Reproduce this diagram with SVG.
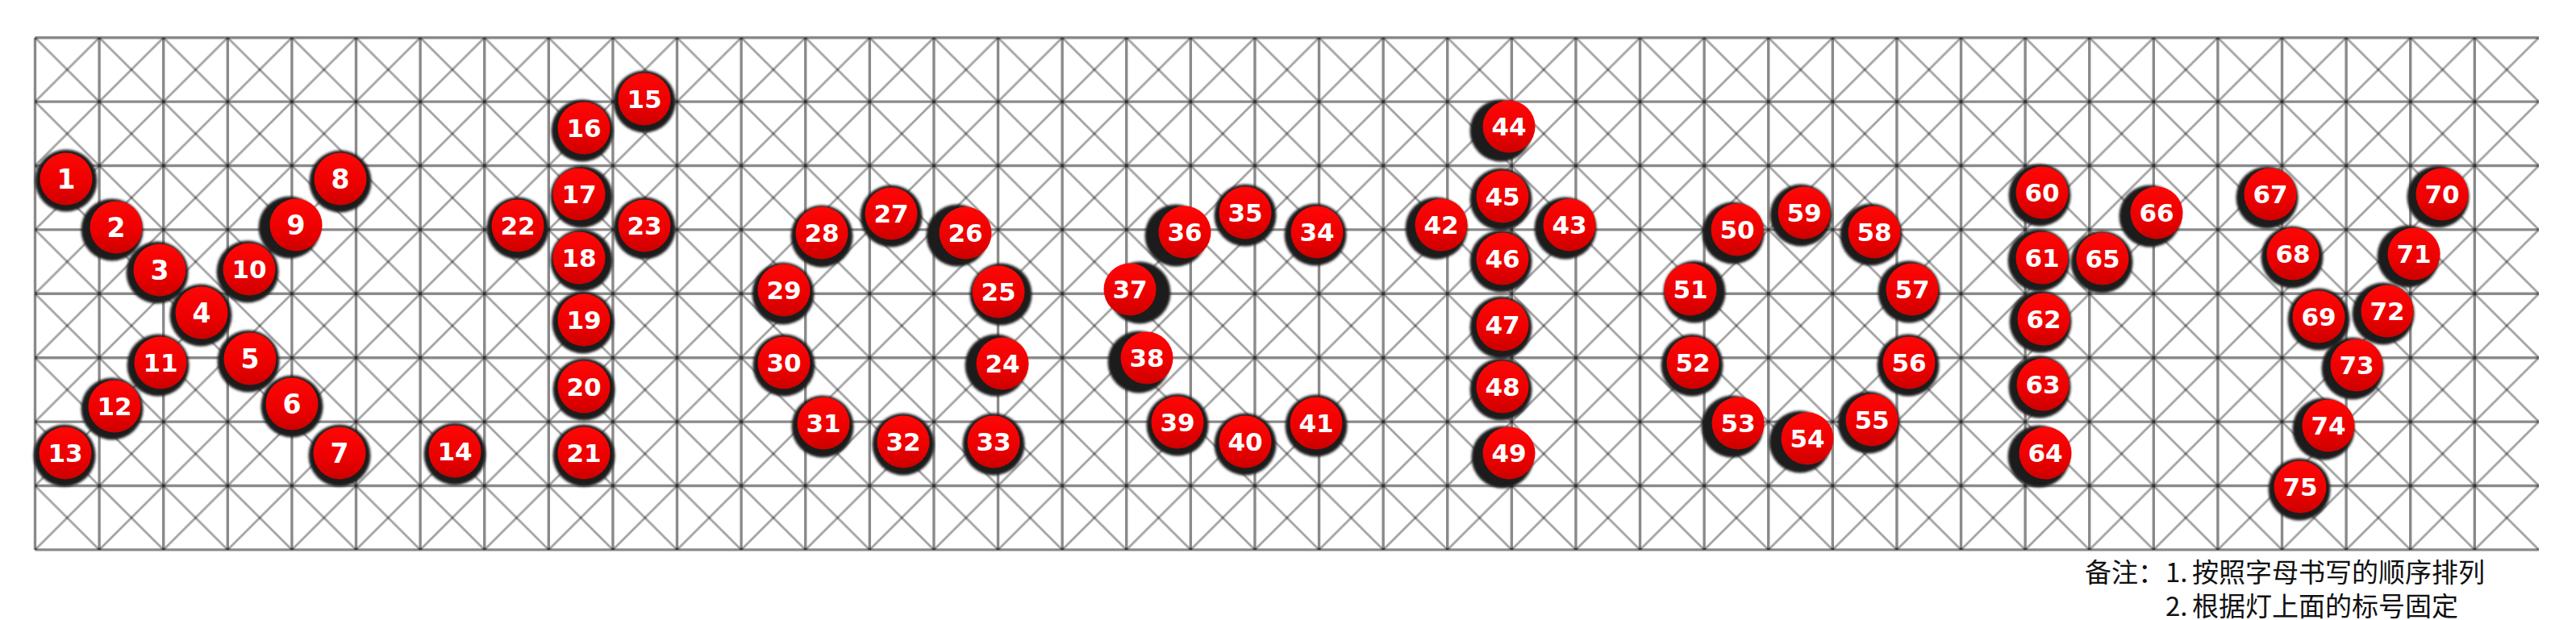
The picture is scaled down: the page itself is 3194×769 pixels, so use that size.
<svg xmlns="http://www.w3.org/2000/svg" width="3194" height="769" viewBox="0 0 3194 769">
<style>
.bg{fill:#fff}
.gl{fill:none;stroke:#000;stroke-opacity:.46;stroke-width:3.4}
.dg{fill:none;stroke:#000;stroke-opacity:.36;stroke-width:2.8}
.s{fill:#1c1c1c;filter:url(#bl)}
.r{fill:url(#rg)}
.t,.t1{fill:#fff;font-family:"DejaVu Sans","Liberation Sans",sans-serif;font-weight:bold;text-anchor:middle}
.t{font-size:31px}
.t1{font-size:33px}
.note{fill:#111;font-family:"Noto Sans CJK SC","Noto Sans",sans-serif;font-size:33px}
</style>
<defs>
<linearGradient id="rg" x1="0" y1="0" x2="0" y2="1">
<stop offset="0" stop-color="#ff0606"/>
<stop offset="0.6" stop-color="#ec0000"/>
<stop offset="1" stop-color="#cc0000"/>
</linearGradient>
<filter id="bl" x="-20%" y="-20%" width="140%" height="140%"><feGaussianBlur stdDeviation="1.4"/></filter>
<filter id="soft" x="-1%" y="-2%" width="102%" height="104%"><feGaussianBlur stdDeviation="0.6"/></filter>
<pattern id="xp" patternUnits="userSpaceOnUse" x="43.5" y="46.7" width="79.6" height="79.4">
<path class="dg" d="M0 0L79.6 79.4"/>
<path class="dg" d="M79.6 0L0 79.4"/>
</pattern>
</defs>
<rect class="bg" x="0" y="0" width="3194" height="769"/>
<g id="grid" filter="url(#soft)">
<rect x="43.5" y="46.7" width="3104.4" height="635.2" fill="url(#xp)"/>
<path class="gl" d="M43.5 46.7v635.2m79.6-635.2v635.2m79.6-635.2v635.2m79.6-635.2v635.2m79.6-635.2v635.2m79.6-635.2v635.2m79.6-635.2v635.2m79.6-635.2v635.2m79.6-635.2v635.2m79.6-635.2v635.2m79.6-635.2v635.2m79.6-635.2v635.2m79.6-635.2v635.2m79.6-635.2v635.2m79.6-635.2v635.2m79.6-635.2v635.2m79.6-635.2v635.2m79.6-635.2v635.2m79.6-635.2v635.2m79.6-635.2v635.2m79.6-635.2v635.2m79.6-635.2v635.2m79.6-635.2v635.2m79.6-635.2v635.2m79.6-635.2v635.2m79.6-635.2v635.2m79.6-635.2v635.2m79.6-635.2v635.2m79.6-635.2v635.2m79.6-635.2v635.2m79.6-635.2v635.2m79.6-635.2v635.2m79.6-635.2v635.2m79.6-635.2v635.2m79.6-635.2v635.2m79.6-635.2v635.2m79.6-635.2v635.2m79.6-635.2v635.2m79.6-635.2v635.2"/>
<path class="gl" d="M43.5 46.7h3104.4m-3104.4 79.4h3104.4m-3104.4 79.4h3104.4m-3104.4 79.4h3104.4m-3104.4 79.4h3104.4m-3104.4 79.4h3104.4m-3104.4 79.4h3104.4m-3104.4 79.4h3104.4m-3104.4 79.4h3104.4"/>
</g>
<g id="nodes">
<g id="n1"><circle class="s" cx="82" cy="224" r="38.5"/><circle class="r" cx="82" cy="222" r="32.5"/><text class="t1" x="82" y="234">1</text></g>
<g id="n2"><circle class="s" cx="139" cy="285" r="38.5"/><circle class="r" cx="144" cy="282" r="32.5"/><text class="t1" x="144" y="294">2</text></g>
<g id="n3"><circle class="s" cx="195" cy="338" r="38.5"/><circle class="r" cx="198" cy="335" r="32.5"/><text class="t1" x="198" y="347">3</text></g>
<g id="n4"><circle class="s" cx="249" cy="391" r="38.5"/><circle class="r" cx="250" cy="388" r="32.5"/><text class="t1" x="250" y="400">4</text></g>
<g id="n5"><circle class="s" cx="308" cy="448" r="38.5"/><circle class="r" cx="310" cy="445" r="32.5"/><text class="t1" x="310" y="457">5</text></g>
<g id="n6"><circle class="s" cx="362" cy="504" r="38.5"/><circle class="r" cx="362" cy="501" r="32.5"/><text class="t1" x="362" y="513">6</text></g>
<g id="n7"><circle class="s" cx="421" cy="565" r="38.5"/><circle class="r" cx="421" cy="562" r="32.5"/><text class="t1" x="421" y="574">7</text></g>
<g id="n8"><circle class="s" cx="422" cy="225" r="38.5"/><circle class="r" cx="422" cy="222" r="32.5"/><text class="t1" x="422" y="234">8</text></g>
<g id="n9"><circle class="s" cx="359" cy="282" r="38.5"/><circle class="r" cx="367" cy="279" r="32.5"/><text class="t1" x="367" y="291">9</text></g>
<g id="n10"><circle class="s" cx="307" cy="337" r="38.5"/><circle class="r" cx="309" cy="334" r="32.5"/><text class="t" x="309" y="345">10</text></g>
<g id="n11"><circle class="s" cx="196" cy="453" r="38.5"/><circle class="r" cx="199" cy="450" r="32.5"/><text class="t" x="199" y="461">11</text></g>
<g id="n12"><circle class="s" cx="139" cy="507" r="38.5"/><circle class="r" cx="142" cy="504" r="32.5"/><text class="t" x="142" y="515">12</text></g>
<g id="n13"><circle class="s" cx="80" cy="565" r="38.5"/><circle class="r" cx="81" cy="562" r="32.5"/><text class="t" x="81" y="573">13</text></g>
<g id="n14"><circle class="s" cx="564" cy="563" r="38.5"/><circle class="r" cx="564" cy="560" r="32.5"/><text class="t" x="564" y="571">14</text></g>
<g id="n15"><circle class="s" cx="799" cy="126" r="38.5"/><circle class="r" cx="799" cy="123" r="32.5"/><text class="t" x="799" y="134">15</text></g>
<g id="n16"><circle class="s" cx="722" cy="162" r="38.5"/><circle class="r" cx="724" cy="159" r="32.5"/><text class="t" x="724" y="170">16</text></g>
<g id="n17"><circle class="s" cx="721" cy="244" r="38.5"/><circle class="r" cx="718" cy="241" r="32.5"/><text class="t" x="718" y="252">17</text></g>
<g id="n18"><circle class="s" cx="721" cy="323" r="38.5"/><circle class="r" cx="718" cy="320" r="32.5"/><text class="t" x="718" y="331">18</text></g>
<g id="n19"><circle class="s" cx="723" cy="400" r="38.5"/><circle class="r" cx="724" cy="397" r="32.5"/><text class="t" x="724" y="408">19</text></g>
<g id="n20"><circle class="s" cx="724" cy="483" r="38.5"/><circle class="r" cx="724" cy="480" r="32.5"/><text class="t" x="724" y="491">20</text></g>
<g id="n21"><circle class="s" cx="724" cy="565" r="38.5"/><circle class="r" cx="724" cy="562" r="32.5"/><text class="t" x="724" y="573">21</text></g>
<g id="n22"><circle class="s" cx="642" cy="283" r="38.5"/><circle class="r" cx="642" cy="280" r="32.5"/><text class="t" x="642" y="291">22</text></g>
<g id="n23"><circle class="s" cx="799" cy="283" r="38.5"/><circle class="r" cx="799" cy="280" r="32.5"/><text class="t" x="799" y="291">23</text></g>
<g id="n24"><circle class="s" cx="1235" cy="453" r="38.5"/><circle class="r" cx="1243" cy="451" r="32.5"/><text class="t" x="1243" y="462">24</text></g>
<g id="n25"><circle class="s" cx="1241" cy="365" r="38.5"/><circle class="r" cx="1238" cy="362" r="32.5"/><text class="t" x="1238" y="373">25</text></g>
<g id="n26"><circle class="s" cx="1187" cy="292" r="38.5"/><circle class="r" cx="1197" cy="289" r="32.5"/><text class="t" x="1197" y="300">26</text></g>
<g id="n27"><circle class="s" cx="1105" cy="268" r="38.5"/><circle class="r" cx="1105" cy="265" r="32.5"/><text class="t" x="1105" y="276">27</text></g>
<g id="n28"><circle class="s" cx="1019" cy="293" r="38.5"/><circle class="r" cx="1019" cy="289" r="32.5"/><text class="t" x="1019" y="300">28</text></g>
<g id="n29"><circle class="s" cx="971" cy="364" r="38.5"/><circle class="r" cx="972" cy="360" r="32.5"/><text class="t" x="972" y="371">29</text></g>
<g id="n30"><circle class="s" cx="972" cy="453" r="38.5"/><circle class="r" cx="972" cy="450" r="32.5"/><text class="t" x="972" y="461">30</text></g>
<g id="n31"><circle class="s" cx="1020" cy="529" r="38.5"/><circle class="r" cx="1021" cy="525" r="32.5"/><text class="t" x="1021" y="536">31</text></g>
<g id="n32"><circle class="s" cx="1120" cy="551" r="38.5"/><circle class="r" cx="1120" cy="548" r="32.5"/><text class="t" x="1120" y="559">32</text></g>
<g id="n33"><circle class="s" cx="1232" cy="551" r="38.5"/><circle class="r" cx="1232" cy="548" r="32.5"/><text class="t" x="1232" y="559">33</text></g>
<g id="n34"><circle class="s" cx="1631" cy="291" r="38.5"/><circle class="r" cx="1633" cy="288" r="32.5"/><text class="t" x="1633" y="299">34</text></g>
<g id="n35"><circle class="s" cx="1544" cy="267" r="38.5"/><circle class="r" cx="1544" cy="264" r="32.5"/><text class="t" x="1544" y="275">35</text></g>
<g id="n36"><circle class="s" cx="1458" cy="292" r="38.5"/><circle class="r" cx="1469" cy="288" r="32.5"/><text class="t" x="1469" y="299">36</text></g>
<g id="n37"><circle class="s" cx="1413" cy="363" r="38.5"/><circle class="r" cx="1401" cy="359" r="32.5"/><text class="t" x="1401" y="370">37</text></g>
<g id="n38"><circle class="s" cx="1412" cy="449" r="38.5"/><circle class="r" cx="1422" cy="444" r="32.5"/><text class="t" x="1422" y="455">38</text></g>
<g id="n39"><circle class="s" cx="1460" cy="527" r="38.5"/><circle class="r" cx="1460" cy="524" r="32.5"/><text class="t" x="1460" y="535">39</text></g>
<g id="n40"><circle class="s" cx="1544" cy="551" r="38.5"/><circle class="r" cx="1544" cy="548" r="32.5"/><text class="t" x="1544" y="559">40</text></g>
<g id="n41"><circle class="s" cx="1632" cy="528" r="38.5"/><circle class="r" cx="1632" cy="525" r="32.5"/><text class="t" x="1632" y="536">41</text></g>
<g id="n42"><circle class="s" cx="1781" cy="283" r="38.5"/><circle class="r" cx="1787" cy="279" r="32.5"/><text class="t" x="1787" y="290">42</text></g>
<g id="n43"><circle class="s" cx="1941" cy="283" r="38.5"/><circle class="r" cx="1946" cy="279" r="32.5"/><text class="t" x="1946" y="290">43</text></g>
<g id="n44"><circle class="s" cx="1861" cy="162" r="38.5"/><circle class="r" cx="1871" cy="157" r="32.5"/><text class="t" x="1871" y="168">44</text></g>
<g id="n45"><circle class="s" cx="1861" cy="247" r="38.5"/><circle class="r" cx="1863" cy="244" r="32.5"/><text class="t" x="1863" y="255">45</text></g>
<g id="n46"><circle class="s" cx="1861" cy="324" r="38.5"/><circle class="r" cx="1863" cy="321" r="32.5"/><text class="t" x="1863" y="332">46</text></g>
<g id="n47"><circle class="s" cx="1861" cy="406" r="38.5"/><circle class="r" cx="1863" cy="403" r="32.5"/><text class="t" x="1863" y="414">47</text></g>
<g id="n48"><circle class="s" cx="1861" cy="483" r="38.5"/><circle class="r" cx="1863" cy="480" r="32.5"/><text class="t" x="1863" y="491">48</text></g>
<g id="n49"><circle class="s" cx="1863" cy="567" r="38.5"/><circle class="r" cx="1871" cy="562" r="32.5"/><text class="t" x="1871" y="573">49</text></g>
<g id="n50"><circle class="s" cx="2149" cy="289" r="38.5"/><circle class="r" cx="2154" cy="285" r="32.5"/><text class="t" x="2154" y="296">50</text></g>
<g id="n51"><circle class="s" cx="2101" cy="362" r="38.5"/><circle class="r" cx="2096" cy="359" r="32.5"/><text class="t" x="2096" y="370">51</text></g>
<g id="n52"><circle class="s" cx="2098" cy="453" r="38.5"/><circle class="r" cx="2099" cy="450" r="32.5"/><text class="t" x="2099" y="461">52</text></g>
<g id="n53"><circle class="s" cx="2148" cy="529" r="38.5"/><circle class="r" cx="2155" cy="525" r="32.5"/><text class="t" x="2155" y="536">53</text></g>
<g id="n54"><circle class="s" cx="2232" cy="548" r="38.5"/><circle class="r" cx="2241" cy="544" r="32.5"/><text class="t" x="2241" y="555">54</text></g>
<g id="n55"><circle class="s" cx="2317" cy="524" r="38.5"/><circle class="r" cx="2321" cy="521" r="32.5"/><text class="t" x="2321" y="532">55</text></g>
<g id="n56"><circle class="s" cx="2366" cy="453" r="38.5"/><circle class="r" cx="2367" cy="450" r="32.5"/><text class="t" x="2367" y="461">56</text></g>
<g id="n57"><circle class="s" cx="2367" cy="362" r="38.5"/><circle class="r" cx="2371" cy="359" r="32.5"/><text class="t" x="2371" y="370">57</text></g>
<g id="n58"><circle class="s" cx="2320" cy="291" r="38.5"/><circle class="r" cx="2324" cy="288" r="32.5"/><text class="t" x="2324" y="299">58</text></g>
<g id="n59"><circle class="s" cx="2233" cy="267" r="38.5"/><circle class="r" cx="2237" cy="264" r="32.5"/><text class="t" x="2237" y="275">59</text></g>
<g id="n60"><circle class="s" cx="2529" cy="242" r="38.5"/><circle class="r" cx="2532" cy="239" r="32.5"/><text class="t" x="2532" y="250">60</text></g>
<g id="n61"><circle class="s" cx="2528" cy="323" r="38.5"/><circle class="r" cx="2532" cy="320" r="32.5"/><text class="t" x="2532" y="331">61</text></g>
<g id="n62"><circle class="s" cx="2530" cy="399" r="38.5"/><circle class="r" cx="2534" cy="396" r="32.5"/><text class="t" x="2534" y="407">62</text></g>
<g id="n63"><circle class="s" cx="2529" cy="480" r="38.5"/><circle class="r" cx="2533" cy="477" r="32.5"/><text class="t" x="2533" y="488">63</text></g>
<g id="n64"><circle class="s" cx="2528" cy="566" r="38.5"/><circle class="r" cx="2536" cy="562" r="32.5"/><text class="t" x="2536" y="573">64</text></g>
<g id="n65"><circle class="s" cx="2606" cy="325" r="38.5"/><circle class="r" cx="2607" cy="321" r="32.5"/><text class="t" x="2607" y="332">65</text></g>
<g id="n66"><circle class="s" cx="2666" cy="268" r="38.5"/><circle class="r" cx="2674" cy="264" r="32.5"/><text class="t" x="2674" y="275">66</text></g>
<g id="n67"><circle class="s" cx="2811" cy="245" r="38.5"/><circle class="r" cx="2815" cy="241" r="32.5"/><text class="t" x="2815" y="252">67</text></g>
<g id="n68"><circle class="s" cx="2842" cy="319" r="38.5"/><circle class="r" cx="2843" cy="315" r="32.5"/><text class="t" x="2843" y="326">68</text></g>
<g id="n69"><circle class="s" cx="2875" cy="396" r="38.5"/><circle class="r" cx="2875" cy="393" r="32.5"/><text class="t" x="2875" y="404">69</text></g>
<g id="n70"><circle class="s" cx="3023" cy="244" r="38.5"/><circle class="r" cx="3028" cy="241" r="32.5"/><text class="t" x="3028" y="252">70</text></g>
<g id="n71"><circle class="s" cx="2986" cy="318" r="38.5"/><circle class="r" cx="2993" cy="315" r="32.5"/><text class="t" x="2993" y="326">71</text></g>
<g id="n72"><circle class="s" cx="2955" cy="389" r="38.5"/><circle class="r" cx="2960" cy="386" r="32.5"/><text class="t" x="2960" y="397">72</text></g>
<g id="n73"><circle class="s" cx="2917" cy="457" r="38.5"/><circle class="r" cx="2922" cy="453" r="32.5"/><text class="t" x="2922" y="464">73</text></g>
<g id="n74"><circle class="s" cx="2881" cy="532" r="38.5"/><circle class="r" cx="2887" cy="528" r="32.5"/><text class="t" x="2887" y="539">74</text></g>
<g id="n75"><circle class="s" cx="2851" cy="607" r="38.5"/><circle class="r" cx="2852" cy="604" r="32.5"/><text class="t" x="2852" y="615">75</text></g>
</g>
<g id="note">
<text class="note" y="722"><tspan x="2585">备注：</tspan><tspan x="2685">1.</tspan><tspan x="2718">按照字母书写的顺序排列</tspan></text>
<text class="note" y="764"><tspan x="2685">2.</tspan><tspan x="2718">根据灯上面的标号固定</tspan></text>
</g>
</svg>
